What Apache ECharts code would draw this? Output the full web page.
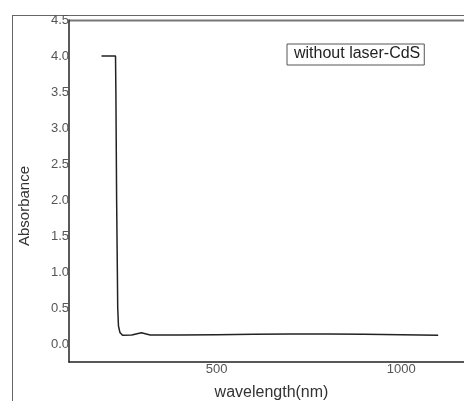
<!DOCTYPE html>
<html>
<head>
<meta charset="utf-8">
<script src="https://cdn.jsdelivr.net/npm/echarts@6/dist/echarts.min.js"></script>
<style>html,body{margin:0;padding:0;background:#fff;}#c{width:464px;height:401px;}</style>
</head>
<body>
<div id="c"></div>
<script>
var seriesName = 'without laser-CdS';
var wavelength = [188, 226, 227, 229, 231, 232, 234, 238, 245, 270, 296, 320, 400, 500, 600, 700, 800, 900, 1000, 1050, 1100];
var absorbance = [4.0, 4.0, 3.5, 2.0, 1.0, 0.5, 0.25, 0.16, 0.12, 0.125, 0.155, 0.125, 0.125, 0.13, 0.135, 0.14, 0.14, 0.135, 0.13, 0.125, 0.12];
var xTickLabels = [500, 1000];
var yTickLabels = [0, 0.5, 1, 1.5, 2, 2.5, 3, 3.5, 4, 4.5];

var data = wavelength.map(function (w, i) { return [w, absorbance[i]]; });
var chart = echarts.init(document.getElementById('c'));
var font = 'Liberation Sans, Arial, sans-serif';
chart.setOption({
  animation: false,
  grid: { left: 69, right: 0, top: 20, bottom: 39, containLabel: false, outerBoundsMode: 'none' },
  legend: {
    left: 287, top: 44,
    data: [{ name: seriesName, icon: 'none' }],
    itemWidth: 0, itemHeight: 0, itemGap: 0,
    borderColor: '#555', borderWidth: 1, padding: [2, 4, 3, 2],
    textStyle: { fontFamily: font, fontSize: 16, color: '#222' }
  },
  xAxis: {
    type: 'value', min: 100, max: 1170,
    name: 'wavelength(nm)', nameLocation: 'middle', nameGap: 23,
    nameTextStyle: { fontFamily: font, fontSize: 16, color: '#333', padding: [0, 0, 0, 10] },
    axisLine: { onZero: false, lineStyle: { color: '#222', width: 1.5 } },
    axisTick: { show: false },
    splitLine: { show: false },
    axisLabel: { customValues: xTickLabels, margin: 1, fontFamily: font, fontSize: 13, color: '#555',
      formatter: function (v) { return String(v); } }
  },
  yAxis: {
    type: 'value', min: -0.25, max: 4.5,
    name: 'Absorbance', nameLocation: 'middle', nameGap: 37,
    nameTextStyle: { fontFamily: font, fontSize: 15, color: '#333', padding: [0, 30, 0, 0] },
    axisLine: { show: true, onZero: false, lineStyle: { color: '#222', width: 1.5 } },
    axisTick: { show: false },
    splitLine: { show: false },
    axisLabel: { customValues: yTickLabels, margin: 0, fontFamily: font, fontSize: 13, color: '#555',
      formatter: function (v) { return v.toFixed(1); } }
  },
  graphic: [
    { type: 'line', shape: { x1: 12, y1: 15.5, x2: 464, y2: 15.5 }, style: { stroke: '#666', lineWidth: 1 } },
    { type: 'line', shape: { x1: 12.5, y1: 15, x2: 12.5, y2: 401 }, style: { stroke: '#666', lineWidth: 1 } },
    { type: 'line', shape: { x1: 69, y1: 20.5, x2: 464, y2: 20.5 }, style: { stroke: '#777', lineWidth: 2 } }
  ],
  series: [{
    name: seriesName, type: 'line', data: data, showSymbol: false, smooth: false,
    lineStyle: { color: '#222', width: 1.5 }, itemStyle: { color: '#222' }
  }]
});
</script>
</body>
</html>
